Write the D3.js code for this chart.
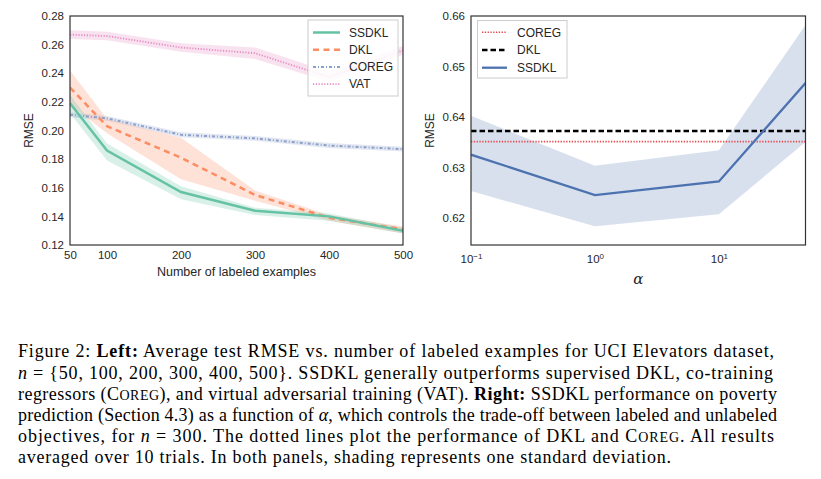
<!DOCTYPE html>
<html><head><meta charset="utf-8">
<script src="https://cdn.jsdelivr.net/npm/d3@7"></script>
<style>
body{margin:0;background:#fff;}
svg{display:block;}
.axt{font-family:"Liberation Sans",Arial,sans-serif;fill:#262626;}
.cap{font-family:"Liberation Serif","Times New Roman",serif;fill:#000;font-size:18px;}
</style></head>
<body>
<svg id="c" width="821" height="479"></svg>
<script>
// ---- Left panel data (UCI Elevators) ----
const nLabeled = [50, 100, 200, 300, 400, 500];
const ssdklMean = [0.219, 0.186, 0.157, 0.144, 0.140, 0.130];
const ssdklLo   = [0.212, 0.179, 0.152, 0.141, 0.137, 0.128];
const ssdklHi   = [0.225, 0.191, 0.161, 0.146, 0.142, 0.132];
const dklMean   = [0.230, 0.203, 0.181, 0.155, 0.139, 0.131];
const dklLo     = [0.218, 0.198, 0.166, 0.151, 0.137, 0.128];
const dklHi     = [0.242, 0.208, 0.195, 0.158, 0.141, 0.133];
const coregMean = [0.211, 0.2085, 0.197, 0.1945, 0.1895, 0.187];
const coregLo   = [0.2093, 0.2068, 0.1953, 0.1928, 0.1878, 0.1853];
const coregHi   = [0.2127, 0.2102, 0.1987, 0.1962, 0.1912, 0.1887];
const vatMean   = [0.267, 0.266, 0.258, 0.254, 0.2373, 0.256];
const vatLo     = [0.264, 0.263, 0.255, 0.250, 0.234, 0.253];
const vatHi     = [0.270, 0.269, 0.261, 0.258, 0.241, 0.259];
const leftYTicks = [0.12, 0.14, 0.16, 0.18, 0.20, 0.22, 0.24, 0.26, 0.28];
const leftXTicks = [50, 100, 200, 300, 400, 500];
const leftSeriesNames = ["SSDKL", "DKL", "COREG", "VAT"];

// ---- Right panel data (poverty, n = 300) ----
const alphas = [0.1, 1, 10, 50];
const ssdklR   = [0.6325, 0.6245, 0.6272, 0.6467];
const ssdklRLo = [0.6253, 0.6183, 0.6207, 0.6350];
const ssdklRHi = [0.6402, 0.6303, 0.6334, 0.6582];
const dklR = 0.6372;
const coregR = 0.6351;
const rightYTicks = [0.62, 0.63, 0.64, 0.65, 0.66];
const rightXTicks = [0.1, 1, 10];
const rightXTickExp = ["−1", "0", "1"];
const rightSeriesNames = ["COREG", "DKL", "SSDKL"];

const svg = d3.select("#c");
const frame = "#333";

// ================= LEFT =================
const L = {x0: 70, x1: 403, y0: 16, y1: 245};
const xL = d3.scaleLinear().domain([50, 500]).range([L.x0, L.x1]);
const yL = d3.scaleLinear().domain([0.12, 0.28]).range([L.y1, L.y0]);
const gL = svg.append("g");
gL.append("clipPath").attr("id","clipL").append("rect")
  .attr("x",L.x0).attr("y",L.y0).attr("width",L.x1-L.x0).attr("height",L.y1-L.y0);
const pL = gL.append("g").attr("clip-path","url(#clipL)");

const leftSeries = [
  {name:"VAT", m:vatMean, lo:vatLo, hi:vatHi, color:"#e78ac3", w:1.8, dash:"1.2,1.6"},
  {name:"COREG", m:coregMean, lo:coregLo, hi:coregHi, color:"#8da0cb", w:2, dash:"3,2,1,2"},
  {name:"DKL", m:dklMean, lo:dklLo, hi:dklHi, color:"#fc8d62", w:2.5, dash:"6,4.5"},
  {name:"SSDKL", m:ssdklMean, lo:ssdklLo, hi:ssdklHi, color:"#66c2a5", w:2.5, dash:null}
];
const areaL = d3.area().x(d=>xL(d.x)).y0(d=>yL(d.lo)).y1(d=>yL(d.hi));
const lineL = d3.line().x(d=>xL(d.x)).y(d=>yL(d.y));
leftSeries.forEach(s=>{
  const pts = nLabeled.map((x,i)=>({x, lo:s.lo[i], hi:s.hi[i], y:s.m[i]}));
  pL.append("path").attr("d", areaL(pts)).attr("fill", s.color).attr("fill-opacity", 0.25);
});
leftSeries.forEach(s=>{
  const pts = nLabeled.map((x,i)=>({x, y:s.m[i]}));
  pL.append("path").attr("d", lineL(pts)).attr("fill","none").attr("stroke", s.color)
    .attr("stroke-width", s.w).attr("stroke-dasharray", s.dash);
});
gL.append("rect").attr("x",L.x0).attr("y",L.y0).attr("width",L.x1-L.x0).attr("height",L.y1-L.y0)
  .attr("fill","none").attr("stroke",frame).attr("stroke-width",1.2);

const axYL = gL.append("g").attr("transform",`translate(${L.x0},0)`)
  .call(d3.axisLeft(yL).tickValues(leftYTicks).tickFormat(d3.format(".2f")).tickSize(0).tickPadding(6));
const axXL = gL.append("g").attr("transform",`translate(0,${L.y1})`)
  .call(d3.axisBottom(xL).tickValues(leftXTicks).tickFormat(d3.format("d")).tickSize(0).tickPadding(6));
[axYL, axXL].forEach(a=>{ a.select(".domain").remove();
  a.selectAll("text").attr("class","axt").style("font-size","11.5px").attr("fill","#262626"); });
gL.append("text").attr("class","axt").attr("x", (L.x0+L.x1)/2).attr("y", 276)
  .attr("text-anchor","middle").style("font-size","12.5px").text("Number of labeled examples");
gL.append("text").attr("class","axt").attr("transform",`translate(33,${(L.y0+L.y1)/2}) rotate(-90)`)
  .attr("text-anchor","middle").style("font-size","12px").text("RMSE");

// left legend
const legL = gL.append("g");
legL.append("rect").attr("x",308).attr("y",20).attr("width",90).attr("height",76)
  .attr("fill","#fff").attr("fill-opacity",0.85).attr("stroke","#ccc").attr("stroke-width",1);
const legOrder = ["SSDKL","DKL","COREG","VAT"];
legOrder.forEach((nm,i)=>{
  const s = leftSeries.find(d=>d.name===nm);
  const yy = 32.5 + i*17.2;
  legL.append("line").attr("x1",313).attr("x2",340).attr("y1",yy).attr("y2",yy)
    .attr("stroke",s.color).attr("stroke-width",s.w).attr("stroke-dasharray",s.dash);
  legL.append("text").attr("class","axt").attr("x",349).attr("y",yy+4.3)
    .style("font-size","12px").text(leftSeriesNames[leftSeriesNames.indexOf(nm)]);
});

// ================= RIGHT =================
const R = {x0: 471, x1: 805.5, y0: 16, y1: 245};
const xR = d3.scaleLog().domain([0.1, 50]).range([R.x0, R.x1]);
const yR = d3.scaleLinear().domain([0.6146, 0.66]).range([R.y1, R.y0]);
const gR = svg.append("g");
gR.append("clipPath").attr("id","clipR").append("rect")
  .attr("x",R.x0).attr("y",R.y0).attr("width",R.x1-R.x0).attr("height",R.y1-R.y0);
const pR = gR.append("g").attr("clip-path","url(#clipR)");
const ptsR = alphas.map((a,i)=>({x:a, y:ssdklR[i], lo:ssdklRLo[i], hi:ssdklRHi[i]}));
pR.append("path").attr("d", d3.area().x(d=>xR(d.x)).y0(d=>yR(d.lo)).y1(d=>yR(d.hi))(ptsR))
  .attr("fill","#4c72b0").attr("fill-opacity",0.22);
pR.append("path").attr("d", d3.line().x(d=>xR(d.x)).y(d=>yR(coregR))([{x:0.1},{x:50}]))
  .attr("stroke","#e8474a").attr("stroke-width",1.6).attr("stroke-dasharray","1.3,1.5").attr("fill","none");
pR.append("path").attr("d", d3.line().x(d=>xR(d.x)).y(d=>yR(dklR))([{x:0.1},{x:50}]))
  .attr("stroke","#000").attr("stroke-width",2.5).attr("stroke-dasharray","5.5,3").attr("fill","none");
pR.append("path").attr("d", d3.line().x(d=>xR(d.x)).y(d=>yR(d.y))(ptsR))
  .attr("stroke","#4c72b0").attr("stroke-width",2.3).attr("fill","none");
gR.append("rect").attr("x",R.x0).attr("y",R.y0).attr("width",R.x1-R.x0).attr("height",R.y1-R.y0)
  .attr("fill","none").attr("stroke",frame).attr("stroke-width",1.2);

const axYR = gR.append("g").attr("transform",`translate(${R.x0},0)`)
  .call(d3.axisLeft(yR).tickValues(rightYTicks).tickFormat(d3.format(".2f")).tickSize(0).tickPadding(6));
axYR.select(".domain").remove();
axYR.selectAll("text").attr("class","axt").style("font-size","11.5px").attr("fill","#262626");
const axXR = gR.append("g").attr("transform",`translate(0,${R.y1})`)
  .call(d3.axisBottom(xR).tickValues(rightXTicks).tickFormat(()=>"").tickSize(0).tickPadding(6));
axXR.select(".domain").remove();
axXR.selectAll(".tick text").each(function(d,i){
  const t = d3.select(this).attr("class","axt").style("font-size","11.5px").attr("fill","#262626")
    .attr("dy","1.0em");
  t.append("tspan").text("10");
  t.append("tspan").attr("dy","-0.45em").style("font-size","8px").text(rightXTickExp[i]);
});
gR.append("text").attr("x", (R.x0+R.x1)/2).attr("y", 284).attr("text-anchor","middle")
  .style("font-family","'DejaVu Serif',serif").style("font-style","italic").style("font-size","15px")
  .attr("fill","#262626").text("α");
gR.append("text").attr("class","axt").attr("transform",`translate(434,${(R.y0+R.y1)/2}) rotate(-90)`)
  .attr("text-anchor","middle").style("font-size","12px").text("RMSE");

// right legend
const legR = gR.append("g");
legR.append("rect").attr("x",477.5).attr("y",20.5).attr("width",89.5).attr("height",57.5)
  .attr("fill","#fff").attr("fill-opacity",0.85).attr("stroke","#ccc").attr("stroke-width",1);
const rightLegStyle = [
  {color:"#e8474a", w:1.6, dash:"1.3,1.5"},
  {color:"#000", w:2.5, dash:"5.5,3"},
  {color:"#4c72b0", w:2.3, dash:null}
];
rightSeriesNames.forEach((nm,i)=>{
  const s = rightLegStyle[i];
  const yy = 32.3 + i*17.7;
  legR.append("line").attr("x1",482).attr("x2",507).attr("y1",yy).attr("y2",yy)
    .attr("stroke",s.color).attr("stroke-width",s.w).attr("stroke-dasharray",s.dash);
  legR.append("text").attr("class","axt").attr("x",517).attr("y",yy+4.3).style("font-size","12px").text(nm);
});

// ================= CAPTION =================
const capLines = [
  {w:756, parts:[["Figure 2: "],["Left:","b"],[" Average test RMSE vs. number of labeled examples for UCI Elevators dataset,"]]},
  {w:755, parts:[["n","i"],[" = {50, 100, 200, 300, 400, 500}. SSDKL generally outperforms supervised DKL, co-training"]]},
  {w:759, parts:[["regressors (C"],["OREG","s"],["), and virtual adversarial training (VAT). "],["Right:","b"],[" SSDKL performance on poverty"]]},
  {w:759, parts:[["prediction (Section 4.3) as a function of "],["α","i"],[", which controls the trade-off between labeled and unlabeled"]]},
  {w:756, parts:[["objectives, for "],["n","i"],[" = 300. The dotted lines plot the performance of DKL and C"],["OREG","s"],[". All results"]]},
  {w:653, parts:[["averaged over 10 trials. In both panels, shading represents one standard deviation."]]}
];
capLines.forEach((ln,i)=>{
  const t = svg.append("text").attr("class","cap").attr("x",18).attr("y",357.3 + i*21.2)
    .attr("textLength", ln.w).attr("lengthAdjust","spacing");
  ln.parts.forEach(p=>{
    const ts = t.append("tspan").text(p[0]);
    if (p[1]==="b") ts.style("font-weight","bold");
    if (p[1]==="i") ts.style("font-style","italic");
    if (p[1]==="s") ts.style("font-size","14px");
  });
});
</script>
</body></html>
